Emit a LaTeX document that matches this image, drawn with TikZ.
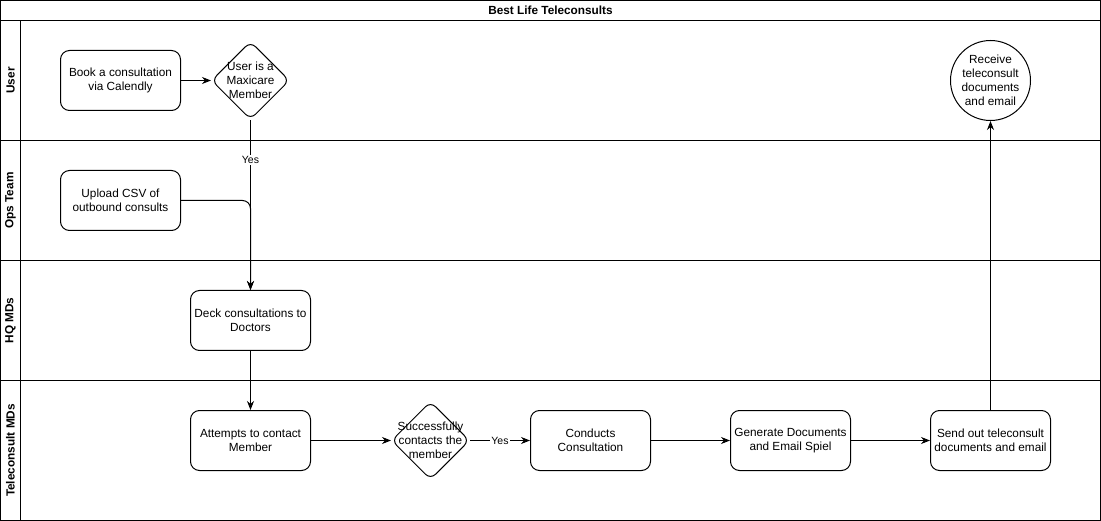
\documentclass[tikz,border=0pt]{standalone}
\usepackage{fontspec}
\setmainfont{Liberation Sans}
\usetikzlibrary{shapes.geometric,arrows.meta}
\begin{document}
\begin{tikzpicture}[x=1pt,y=-1pt,
  line width=1pt,
  font=\fontsize{11.8}{14}\selectfont,
  proc/.style={draw,rounded corners=9pt,minimum width=120pt,minimum height=60pt,align=center,inner sep=2pt},
  dec/.style={draw,diamond,aspect=1,minimum width=78pt,minimum height=78pt,inner sep=0pt,rounded corners=7pt},
  term/.style={draw,circle,minimum size=80pt,inner sep=0pt,align=center},
  lanelbl/.style={rotate=90,font=\fontsize{11.8}{14}\selectfont\bfseries},
  arr/.style={-{Stealth[length=9pt,width=7pt]}},
  elbl/.style={fill=white,inner sep=1pt,font=\fontsize{10.5}{12}\selectfont}
]
\useasboundingbox (0,0) rectangle (1101,521);
% frame and lanes
\draw (0.5,0.5) rectangle (1100.5,520.5);
\draw (0.5,20.5) -- (1100.5,20.5);
\draw (0.5,140.5) -- (1100.5,140.5);
\draw (0.5,260.5) -- (1100.5,260.5);
\draw (0.5,380.5) -- (1100.5,380.5);
\draw (20.5,20.5) -- (20.5,520.5);
\node[font=\fontsize{11.8}{14}\selectfont\bfseries] (title) at (550.5,10.5) {Best Life Teleconsults};
\node[lanelbl] (l1) at (10.5,80.5) {User};
\node[lanelbl] (l2) at (10.5,200.5) {Ops Team};
\node[lanelbl] (l3) at (10.5,320.5) {HQ MDs};
\node[lanelbl] (l4) at (10.5,450.5) {Teleconsult MDs};
% nodes
\node[proc] (book) at (120.5,80.5) {Book a consultation\\via Calendly};
\node[dec,label={[align=center]center:User is a\\Maxicare\\Member}] (member) at (250.5,80.5) {};
\node[proc] (upload) at (120.5,200.5) {Upload CSV of\\outbound consults};
\node[proc] (deck) at (250.5,320.5) {Deck consultations to\\Doctors};
\node[proc] (attempt) at (250.5,440.5) {Attempts to contact\\Member};
\node[dec,label={[align=center]center:Successfully\\contacts the\\member}] (success) at (430.5,440.5) {};
\node[proc] (conduct) at (590.5,440.5) {Conducts\\Consultation};
\node[proc] (gen) at (790.5,440.5) {Generate Documents\\and Email Spiel};
\node[proc] (send) at (990.5,440.5) {Send out teleconsult\\documents and email};
\node[term] (recv) at (990.5,80.5) {Receive\\teleconsult\\documents\\and email};
\coordinate (bend) at (250.5,200.5);
% edges
\draw[arr] (book) -- (member);
\draw[arr] (member) -- node[elbl,pos=0.235]{Yes} (deck);
\draw[arr,rounded corners=8pt] (upload.east) -- (bend) -- (deck.north);
\draw[arr] (deck) -- (attempt);
\draw[arr] (attempt) -- (success);
\draw[arr] (success) -- node[elbl,pos=0.5]{Yes} (conduct);
\draw[arr] (conduct) -- (gen);
\draw[arr] (gen) -- (send);
\draw[arr] (send) -- (recv);
\end{tikzpicture}
\end{document}
